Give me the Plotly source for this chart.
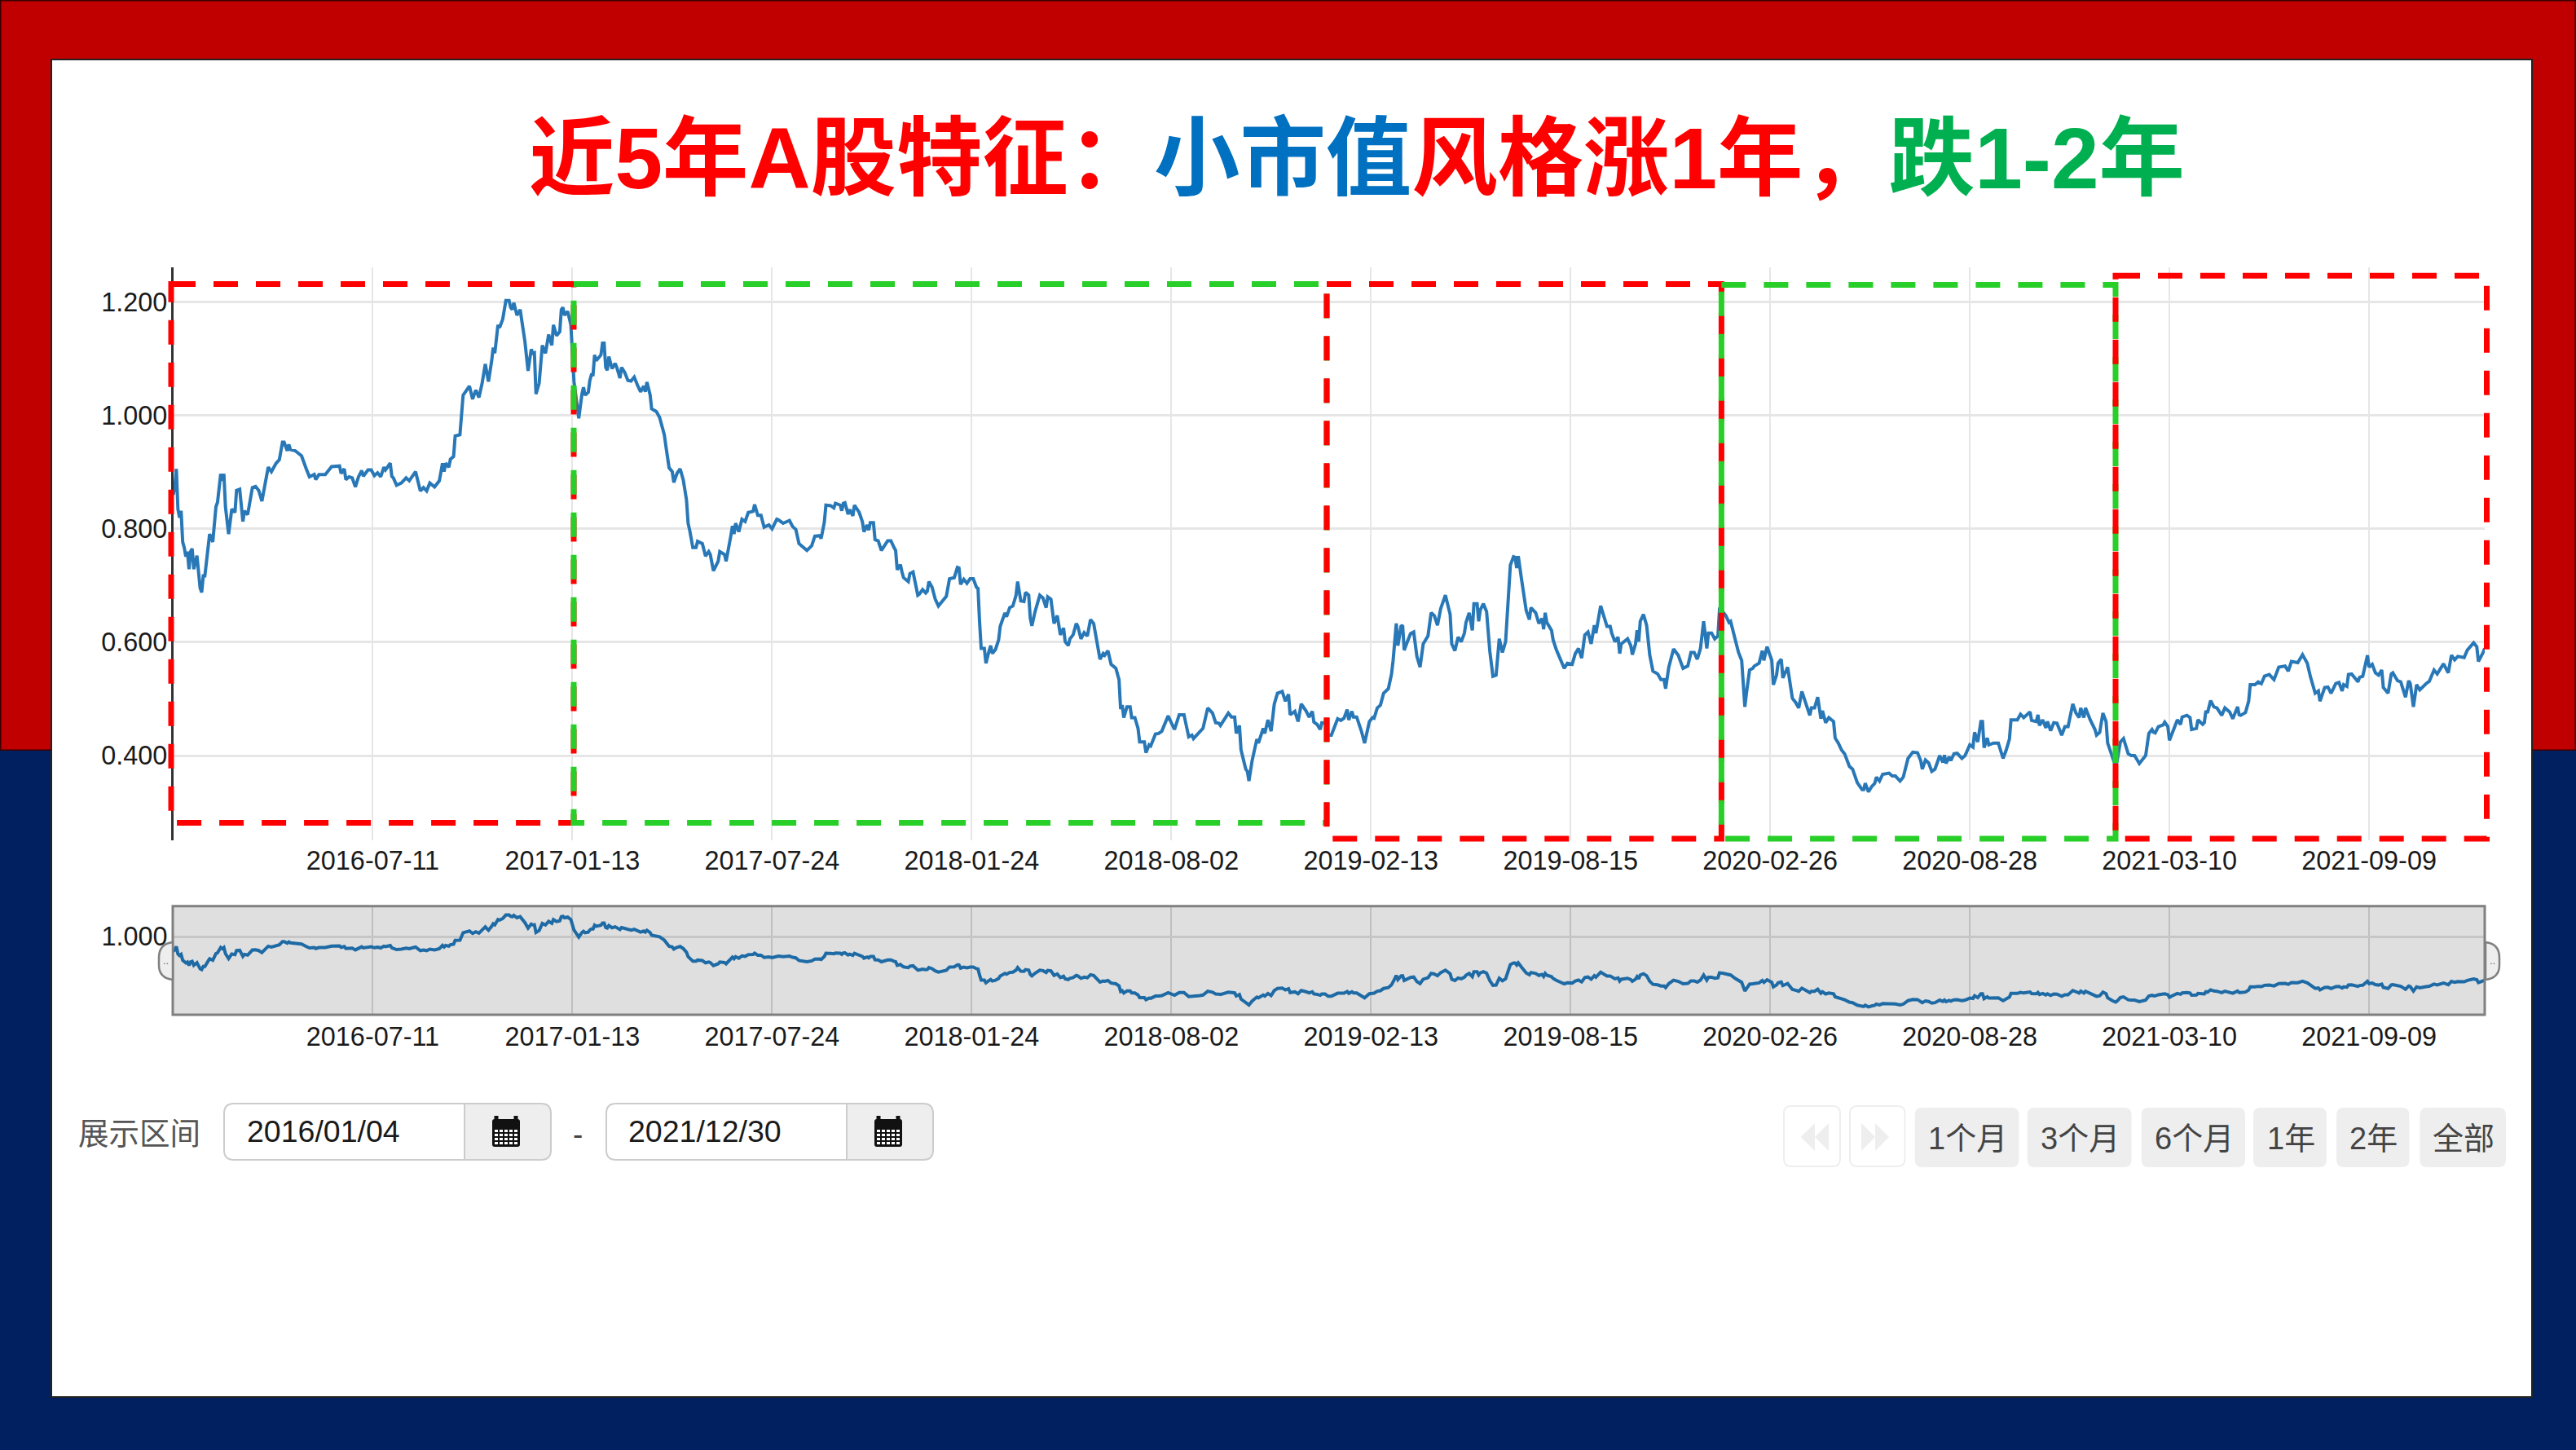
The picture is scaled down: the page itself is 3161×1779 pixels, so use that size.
import plotly.graph_objects as go

# (trading-day number counted from 2016/01/04, net value)
nav_2016 = [(0,.86),(1,.873),(2,.906),(3,.835),(4,.82),(5,.832),(6,.777),(7,.767),(8,.751),(9,.76),(10,.729),(11,.76),(12,.765),(13,.729),(15,.753),(16,.724),(17,.696),(18,.688),(19,.717),(20,.717),(22,.763),(23,.791),(25,.777),(27,.839),(28,.847),(30,.897),(31,.885),(32,.897),(33,.839),(35,.791),(37,.835),(39,.829),(40,.868),(42,.87),(44,.813),(45,.832),(47,.825),(50,.873),(52,.875),(54,.868),(56,.849),(60,.909),(62,.901),(65,.916),(67,.922),(69,.953),(70,.953),(72,.938),(73,.949),(74,.94),(77,.938),(81,.929),(84,.906),(86,.892),(89,.896),(90,.887),(92,.896),(96,.896),(100,.91),(105,.911),(106,.898),(108,.906),(109,.887),(111,.892),(113,.89),(115,.874),(117,.892),(119,.903),(120,.893),(123,.904),(125,.904),(127,.894),(129,.899),(131,.892),(133,.909),(134,.904),(137,.916),(138,.893),(139,.89),(141,.877),(144,.881),(147,.89),(149,.885),(153,.901),(156,.867),(158,.873),(160,.867),(162,.881),(165,.874),(168,.885),(170,.916),(171,.901),(172,.916),(174,.909),(175,.923),(177,.928),(178,.964),(181,.966),(183,1.036),(185,1.043),(187,1.052),(189,1.029),(191,1.045),(193,1.032),(195,1.057),(197,1.091),(198,1.074),(199,1.06),(201,1.096),(202,1.12),(203,1.11),(205,1.16),(206,1.155),(208,1.17),(210,1.203),(212,1.203),(213,1.191),(214,1.187),(215,1.199),(217,1.177),(219,1.187),(222,1.131),(224,1.079),(226,1.117),(227,1.11),(228,1.111),(229,1.038),(231,1.057),(233,1.124),(235,1.11),(237,1.143),(239,1.124),(240,1.16),(242,1.141),(244,1.148),(245,1.187),(246,1.191),(247,1.177),(249,1.184),(251,1.16),(253,1.06),(256,.995),(258,1.038),(259,1.05),(260,1.036),(262,1.041),(263,1.062),(264,1.072)]
nav_2017 = [(265,1.072),(266,1.107),(267,1.097),(270,1.107),(271,1.128),(272,1.128),(273,1.085),(274,1.08),(275,1.104),(277,1.083),(279,1.092),(280,1.085),(282,1.066),(283,1.085),(285,1.076),(287,1.062),(289,1.061),(291,1.068),(293,1.054),(295,1.042),(297,1.052),(298,1.042),(299,1.059),(301,1.037),(302,1.012),(305,1.007),(307,.997),(310,.966),(311,.946),(313,.908),(315,.901),(316,.882),(318,.898),(320,.906),(322,.886),(324,.851),(325,.81),(326,.798),(328,.767),(330,.767),(331,.778),(334,.774),(336,.752),(338,.76),(339,.755),(341,.726),(344,.743),(345,.76),(348,.755),(349,.743),(352,.788),(353,.805),(354,.791),(355,.81),(357,.795),(359,.817),(361,.813),(363,.829),(366,.831),(367,.843),(369,.824),(371,.824),(373,.803),(376,.807),(378,.8),(381,.817),(382,.816),(385,.81),(389,.815),(391,.804),(393,.799),(395,.774),(400,.762),(403,.77),(405,.787),(408,.788),(409,.783),(411,.812),(412,.842),(415,.841),(417,.837),(418,.845),(421,.842),(422,.832),(423,.845),(424,.846),(426,.826),(427,.834),(429,.823),(430,.842),(433,.829),(435,.813),(436,.795),(438,.807),(439,.798),(440,.811),(442,.811),(443,.781),(445,.779),(447,.762),(451,.779),(453,.779),(455,.767),(456,.762),(457,.728),(459,.737),(460,.724),(461,.714),(464,.707),(465,.721),(467,.724),(470,.683),(471,.685),(473,.693),(475,.687),(476,.69),(477,.707),(479,.697),(481,.676),(483,.664),(488,.681),(490,.712),(493,.714),(495,.732),(496,.731),(497,.702),(499,.711),(501,.704),(503,.712),(505,.712),(507,.697),(508,.695)]
nav_2018 = [(509,.635),(510,.589),(512,.589),(513,.563),(515,.585),(516,.594),(517,.58),(519,.587),(521,.604),(522,.628),(525,.652),(526,.645),(528,.661),(530,.664),(532,.683),(533,.707),(535,.673),(537,.672),(538,.688),(540,.683),(541,.642),(542,.629),(544,.654),(545,.664),(547,.683),(549,.678),(551,.661),(552,.68),(554,.676),(556,.633),(558,.647),(560,.613),(562,.625),(563,.601),(565,.594),(566,.606),(568,.613),(570,.633),(571,.628),(573,.606),(575,.617),(577,.611),(579,.64),(581,.633),(583,.599),(585,.57),(587,.58),(588,.577),(590,.585),(592,.561),(595,.554),(597,.534),(598,.482),(599,.489),(600,.467),(602,.486),(604,.486),(605,.467),(607,.467),(609,.448),(610,.424),(613,.424),(614,.405),(616,.419),(617,.417),(620,.438),(622,.439),(624,.443),(628,.47),(630,.458),(632,.446),(635,.472),(638,.472),(641,.433),(643,.436),(644,.43),(648,.443),(650,.448),(653,.484),(656,.475),(658,.458),(660,.457),(661,.453),(666,.475),(668,.468),(670,.468),(671,.439),(673,.453),(674,.41),(677,.376),(678,.372),(679,.355),(681,.391),(684,.429),(685,.422),(688,.448),(689,.439),(691,.463),(693,.443),(695,.491),(697,.51),(700,.513),(702,.496),(704,.508),(705,.472),(708,.478),(710,.46),(712,.491),(715,.479),(717,.468),(719,.478),(720,.459),(722,.455),(724,.446),(725,.458),(727,.458),(729,.436),(731,.436),(735,.465),(737,.462),(739,.466),(741,.481),(742,.463),(744,.478),(745,.468),(747,.468),(750,.443),(752,.422),(755,.46),(757,.467),(758,.466),(760,.484),(762,.489),(764,.51),(767,.518),(769,.544)]
nav_2019 = [(770,.568),(771,.601),(772,.633),(773,.594),(775,.628),(776,.63),(777,.586),(779,.601),(781,.615),(783,.618),(785,.575),(787,.556),(789,.597),(792,.611),(794,.652),(796,.647),(798,.63),(800,.659),(802,.678),(803,.683),(806,.649),(807,.597),(809,.585),(811,.609),(813,.601),(815,.616),(816,.635),(818,.652),(820,.621),(821,.668),(823,.668),(824,.637),(825,.657),(827,.668),(829,.654),(831,.585),(833,.54),(835,.542),(837,.606),(839,.582),(841,.601),(842,.64),(844,.736),(846,.751),(847,.75),(848,.731),(849,.752),(851,.712),(853,.68),(854,.656),(856,.64),(857,.661),(860,.652),(862,.633),(864,.642),(865,.623),(866,.652),(867,.635),(870,.621),(871,.604),(873,.587),(878,.554),(880,.563),(883,.561),(885,.58),(887,.589),(889,.572),(891,.613),(893,.618),(895,.597),(897,.63),(898,.616),(901,.664),(905,.628),(907,.628),(908,.616),(910,.601),(912,.609),(913,.58),(914,.597),(918,.606),(920,.594),(921,.578),(923,.597),(924,.621),(925,.601),(926,.637),(928,.649),(930,.63),(932,.577),(934,.549),(937,.544),(939,.534),(941,.534),(942,.518),(944,.556),(947,.588),(950,.577),(953,.554),(956,.558),(958,.582),(960,.582),(962,.57),(964,.589),(966,.637),(968,.589),(969,.616),(971,.616),(973,.606),(975,.611),(976,.657),(978,.654),(980,.647),(982,.635),(983,.637),(986,.604),(988,.582),(990,.568),(992,.486),(993,.51),(995,.551),(997,.554),(998,.558),(1001,.563),(1003,.585),(1004,.568),(1006,.592),(1009,.568),(1010,.525),(1012,.542),(1013,.563),(1015,.57),(1016,.537),(1019,.556),(1021,.52),(1022,.501)]
nav_2020 = [(1024,.494),(1026,.484),(1028,.513),(1030,.496),(1032,.475),(1033,.471),(1034,.484),(1036,.484),(1038,.503),(1040,.465),(1041,.479),(1043,.458),(1045,.467),(1048,.46),(1049,.431),(1051,.422),(1053,.41),(1055,.403),(1058,.381),(1060,.376),(1063,.352),(1066,.34),(1067,.34),(1068,.351),(1070,.336),(1072,.345),(1074,.351),(1075,.362),(1077,.355),(1079,.367),(1083,.369),(1085,.364),(1087,.364),(1090,.355),(1092,.362),(1095,.395),(1098,.406),(1101,.405),(1103,.391),(1104,.376),(1106,.392),(1108,.387),(1110,.372),(1112,.376),(1115,.4),(1117,.388),(1118,.401),(1119,.386),(1121,.398),(1122,.391),(1124,.403),(1126,.404),(1129,.395),(1131,.4),(1134,.419),(1136,.415),(1137,.441),(1139,.424),(1141,.46),(1142,.46),(1143,.414),(1145,.431),(1146,.419),(1149,.422),(1152,.422),(1155,.395),(1157,.41),(1159,.429),(1160,.463),(1164,.463),(1166,.473),(1168,.467),(1172,.477),(1173,.462),(1176,.46),(1177,.472),(1178,.453),(1180,.463),(1182,.449),(1183,.46),(1185,.444),(1187,.458),(1189,.457),(1192,.436),(1194,.451),(1196,.451),(1199,.491),(1201,.475),(1203,.467),(1204,.484),(1206,.467),(1207,.484),(1210,.463),(1213,.446),(1214,.436),(1216,.441),(1218,.475),(1220,.46),(1221,.422),(1224,.395),(1226,.381),(1227,.391),(1229,.424),(1231,.43),(1234,.403),(1236,.4),(1238,.4)]
nav_2021 = [(1241,.386),(1244,.395),(1245,.4),(1247,.439),(1249,.446),(1250,.441),(1251,.44),(1253,.451),(1256,.454),(1257,.459),(1259,.451),(1260,.427),(1262,.443),(1265,.463),(1267,.455),(1268,.468),(1271,.471),(1273,.467),(1274,.446),(1277,.448),(1278,.463),(1281,.455),(1282,.458),(1283,.479),(1284,.475),(1286,.497),(1288,.486),(1290,.484),(1293,.471),(1295,.484),(1298,.477),(1300,.465),(1303,.486),(1304,.472),(1305,.471),(1308,.476),(1310,.496),(1311,.525),(1314,.525),(1316,.53),(1318,.527),(1320,.54),(1323,.543),(1326,.534),(1329,.556),(1333,.558),(1335,.549),(1337,.566),(1341,.564),(1344,.578),(1347,.563),(1349,.539),(1352,.51),(1354,.514),(1355,.496),(1358,.52),(1360,.521),(1362,.51),(1365,.527),(1367,.529),(1369,.514),(1370,.525),(1372,.522),(1373,.543),(1375,.544),(1379,.53),(1380,.538),(1382,.54),(1385,.577),(1386,.556),(1388,.561),(1390,.546),(1392,.542),(1394,.551),(1395,.52),(1398,.51),(1400,.544),(1401,.546),(1404,.532),(1406,.53),(1409,.503),(1411,.532),(1412,.527),(1414,.486),(1416,.525),(1418,.516),(1422,.527),(1424,.531),(1427,.551),(1429,.544),(1433,.562),(1436,.546),(1438,.577),(1440,.569),(1442,.575),(1446,.573),(1448,.586),(1452,.599),(1454,.592),(1455,.566),(1458,.582),(1459,.589)]

tick_days = [126, 252, 378, 504, 630, 756, 882, 1008, 1134, 1260, 1386]
tick_dates = ["2016-07-11", "2017-01-13", "2017-07-24", "2018-01-24", "2018-08-02", "2019-02-13",
              "2019-08-15", "2020-02-26", "2020-08-28", "2021-03-10", "2021-09-09"]
y_ticks = [0.4, 0.6, 0.8, 1.0, 1.2]
title_parts = [("近5年A股特征：", "#FF0000"), ("小市值", "#0070C0"), ("风格涨1年，", "#FF0000"), ("跌1-2年", "#00B050")]
range_label = "展示区间"
start_date = "2016/01/04"
end_date = "2021/12/30"
button_labels = ["1个月", "3个月", "6个月", "1年", "2年", "全部"]

W, H = 3161, 1779
X = lambda px: px / W
Y = lambda py: 1 - py / H
LATIN = "Liberation Sans, Noto Sans CJK SC, sans-serif"
TXT = "#1A1A1A"

all_nav = nav_2016 + nav_2017 + nav_2018 + nav_2019 + nav_2020 + nav_2021
days = [p[0] for p in all_nav]
nav = [p[1] for p in all_nav]

shapes, annotations = [], []


def rect(x0, y0, x1, y1, fill=None, line=None, lw=0, layer="below"):
    shapes.append(dict(type="rect", xref="paper", yref="paper", x0=X(x0), x1=X(x1), y0=Y(y1), y1=Y(y0),
                       fillcolor=fill or "rgba(0,0,0,0)", line=dict(color=line or "rgba(0,0,0,0)", width=lw),
                       layer=layer))


def path(pts_cmd, fill=None, line=None, lw=0, dash=None, layer="above"):
    shapes.append(dict(type="path", xref="paper", yref="paper", path=pts_cmd,
                       fillcolor=fill or "rgba(0,0,0,0)",
                       line=dict(color=line or "rgba(0,0,0,0)", width=lw, dash=dash or "solid"), layer=layer))


def P(px, py):
    return f"{X(px):.6f},{Y(py):.6f}"


def rrect_path(x0, y0, x1, y1, r, left=True, right=True):
    rl = r if left else 0
    rr = r if right else 0
    s = f"M {P(x0 + rl, y0)} L {P(x1 - rr, y0)} "
    s += f"Q {P(x1, y0)} {P(x1, y0 + rr)} " if rr else ""
    s += f"L {P(x1, y1 - rr)} "
    s += f"Q {P(x1, y1)} {P(x1 - rr, y1)} " if rr else ""
    s += f"L {P(x0 + rl, y1)} "
    s += f"Q {P(x0, y1)} {P(x0, y1 - rl)} " if rl else ""
    s += f"L {P(x0, y0 + rl)} "
    s += f"Q {P(x0, y0)} {P(x0 + rl, y0)} " if rl else ""
    return s + "Z"


def text(px, py, s, size, color=TXT, anchor="left", family=LATIN):
    annotations.append(dict(xref="paper", yref="paper", x=X(px), y=Y(py), text=s, showarrow=False,
                            xanchor=anchor, yanchor="middle", font=dict(size=size, color=color, family=family)))


# slide background
rect(0, 0, W, 921, fill="#C00000", line="#3a0000", lw=3)
rect(0, 921, W, H, fill="#002060")
rect(63, 73, 3107, 1714, fill="#FFFFFF", line="#222222", lw=2)
# overview panel
rect(212, 1111.7, 3049, 1245, fill="#DFDFDF")

# title
title_html = "".join(f'<span style="color:{c}">{t}</span>' for t, c in title_parts)
text(647, 195, f"<b>{title_html}</b>", 105.4, color="#FF0000")

# range selector
text(94, 1387, range_label, 37.5, color="#555555", family="Noto Sans CJK SC")
for x0, xdiv, x1, date, tx, ic in [(275, 570, 676, start_date, 301, 604), (744, 1039, 1145, end_date, 769, 1073)]:
    path(rrect_path(xdiv, 1354, x1, 1423, 12, left=False), fill="#EEEEEE", layer="below")
    path(rrect_path(x0, 1354, x1, 1423, 12), line="#CCCCCC", lw=2, layer="below")
    path(f"M {P(xdiv, 1354)} L {P(xdiv, 1423)}", line="#CCCCCC", lw=2, layer="below")
    text(tx, 1388, date, 37.5, color="#1A1A1A")
    path(rrect_path(ic, 1373, ic + 34, 1407, 3), fill="#111111")
    path(f"M {P(ic + 5, 1369)} L {P(ic + 5, 1377)} M {P(ic + 29, 1369)} L {P(ic + 29, 1377)}", line="#111111", lw=5)
    cells = ""
    for r in range(4):
        for c in range(5):
            cx = ic + 3 + c * 6
            cy = 1386 + r * 5
            cells += f"M {P(cx, cy)} L {P(cx + 4, cy)} L {P(cx + 4, cy + 3)} L {P(cx, cy + 3)} Z "
    path(cells, fill="#FFFFFF")
text(709, 1391, "-", 37, color="#444444", anchor="center")

# period buttons
for x0, x1 in [(2189, 2258), (2270, 2337.5)]:
    path(rrect_path(x0, 1357, x1, 1431, 9), fill="#FFFFFF", line="#EEEEEE", lw=2, layer="below")
for tip, base in [(2209.6, 2227), (2227, 2244)]:
    path(f"M {P(tip, 1395)} L {P(base, 1378)} L {P(base, 1412)} Z", fill="#EEEEEE")
for base, tip in [(2284, 2301), (2301, 2318)]:
    path(f"M {P(tip, 1395)} L {P(base, 1378)} L {P(base, 1412)} Z", fill="#EEEEEE")
button_edges = [(2349.7, 2477.5), (2487.7, 2615.6), (2627.7, 2755), (2765, 2855), (2867, 2956.5), (2969.4, 3075)]
for (x0, x1), lab in zip(button_edges, button_labels):
    path(rrect_path(x0, 1359, x1, 1432, 9), fill="#EEEEEE", layer="below")
    text((x0 + x1) / 2 + 1, 1397, lab, 38, color="#444444", anchor="center")

# overview frame and handles
rect(212, 1111.7, 3049, 1245, line="#808080", lw=3, layer="above")
path(f"M {P(212, 1156)} Q {P(195, 1158)} {P(195, 1175)} L {P(195, 1184)} Q {P(195, 1200)} {P(212, 1202)} Z",
     fill="#EEEEEE", line="#808080", lw=2.5)
path(f"M {P(3050, 1156)} Q {P(3067, 1158)} {P(3067, 1175)} L {P(3067, 1184)} Q {P(3067, 1200)} {P(3050, 1202)} Z",
     fill="#EEEEEE", line="#808080", lw=2.5)
text(203, 1178, "..", 13, color="#666666", anchor="center")
text(3058, 1178, "..", 13, color="#666666", anchor="center")

# dashed period boxes, drawn in the order they overlap
RED, GREEN = "#FF0000", "#28CF28"
boxes = [
    (210, 348.5, 704, 1009.6, RED),
    (704, 348.5, 1628, 1009.6, GREEN),
    (1628, 348.5, 2112.4, 1029, RED),
    (2112.4, 349.5, 2596, 1029, GREEN),
    (2596, 338.3, 3051.5, 1029, RED),
]
for x0, y0, x1, y1, col in boxes:
    path(f"M {P(x0, y0)} L {P(x1, y0)} L {P(x1, y1)} L {P(x0, y1)} Z", line=col, lw=7, dash="30px,22px")

fig = go.Figure()
fig.add_trace(go.Scatter(x=days, y=nav, mode="lines", line=dict(color="#2878B8", width=4), xaxis="x", yaxis="y",
                         hoverinfo="skip", showlegend=False))
fig.add_trace(go.Scatter(x=days, y=nav, mode="lines", line=dict(color="#1E6AA5", width=4), xaxis="x2", yaxis="y2",
                         hoverinfo="skip", showlegend=False))

dom_x = [X(212.5), X(3049)]
tick_font = dict(family=LATIN, size=32.4, color=TXT)
fig.update_layout(
    width=W, height=H, margin=dict(l=0, r=0, t=0, b=0), autosize=False,
    paper_bgcolor="#FFFFFF", plot_bgcolor="rgba(0,0,0,0)", showlegend=False,
    shapes=shapes, annotations=annotations,
    xaxis=dict(domain=dom_x, range=[0, 1459], anchor="y", tickmode="array", tickvals=tick_days, ticktext=tick_dates,
               showgrid=True, gridcolor="#E6E6E6", gridwidth=2, zeroline=False, showline=False,
               ticks="", ticklabelstandoff=3, tickfont=tick_font),
    yaxis=dict(domain=[Y(1031), Y(328)], range=[0.2504, 1.2616], anchor="x", tickmode="array", tickvals=y_ticks,
               tickformat=".3f", showgrid=True, gridcolor="#E6E6E6", gridwidth=3, zeroline=False,
               showline=True, linecolor="#333333", linewidth=2.5,
               ticks="", ticklabelstandoff=-2, tickfont=tick_font),
    xaxis2=dict(domain=dom_x, range=[0, 1459], anchor="y2", tickmode="array", tickvals=tick_days, ticktext=tick_dates,
                showgrid=True, gridcolor="#BFBFBF", gridwidth=2, zeroline=False, showline=False,
                ticks="", ticklabelstandoff=5, tickfont=tick_font),
    yaxis2=dict(domain=[Y(1245), Y(1111.7)], range=[0.262, 1.287], anchor="x2", tickmode="array", tickvals=[1.0],
                tickformat=".3f", showgrid=True, gridcolor="#C6C6C6", gridwidth=3, zeroline=False,
                showline=False, ticks="", ticklabelstandoff=6, tickfont=tick_font),
)
fig.write_html("out.html", config={"displayModeBar": False},
               post_script="document.body.style.margin='0';document.documentElement.style.overflow='hidden';")
